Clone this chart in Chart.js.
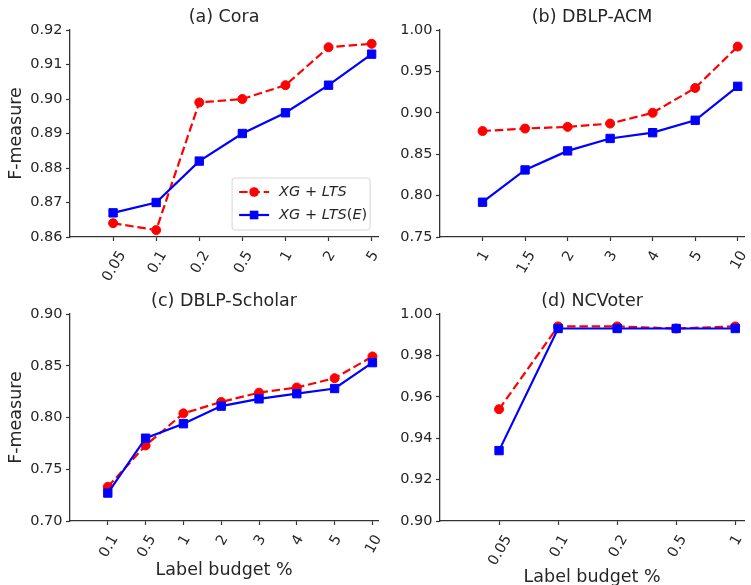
<!DOCTYPE html>
<html>
<head>
<meta charset="utf-8">
<script src="https://cdn.jsdelivr.net/npm/chart.js@4.4.1/dist/chart.umd.min.js"></script>
<style>
  html, body { margin: 0; padding: 0; background: #fff; overflow: hidden; }
  body { width: 751px; height: 585px; position: relative; }
  .panel { position: absolute; }
  canvas { display: block; }
</style>
</head>
<body>
<div class="panel" style="left:0;top:0"><canvas id="cora" width="385" height="290"></canvas></div>
<div class="panel" style="left:380px;top:0"><canvas id="acm" width="371" height="290"></canvas></div>
<div class="panel" style="left:0;top:290px"><canvas id="scholar" width="385" height="295"></canvas></div>
<div class="panel" style="left:380px;top:290px"><canvas id="voter" width="371" height="305"></canvas></div>
<script>
// values
const coraBudget = ['0.05', '0.1', '0.2', '0.5', '1', '2', '5'];
const coraLts    = [0.864, 0.862, 0.899, 0.900, 0.904, 0.915, 0.916];
const coraLtsE   = [0.867, 0.870, 0.882, 0.890, 0.896, 0.904, 0.913];

const acmBudget = ['1', '1.5', '2', '3', '4', '5', '10'];
const acmLts    = [0.878, 0.881, 0.883, 0.887, 0.900, 0.930, 0.980];
const acmLtsE   = [0.792, 0.831, 0.854, 0.869, 0.876, 0.891, 0.932];

const scholarBudget = ['0.1', '0.5', '1', '2', '3', '4', '5', '10'];
const scholarLts    = [0.733, 0.773, 0.804, 0.815, 0.824, 0.829, 0.838, 0.859];
const scholarLtsE   = [0.727, 0.780, 0.794, 0.811, 0.818, 0.823, 0.828, 0.853];

const voterBudget = ['0.05', '0.1', '0.2', '0.5', '1'];
const voterLts    = [0.954, 0.994, 0.994, 0.993, 0.994];
const voterLtsE   = [0.934, 0.993, 0.993, 0.993, 0.993];

const FONT = '"DejaVu Sans", sans-serif';
const TEXT = '#262626';
const AXIS = '#333333';
const RED = '#ff0000';
const BLUE = '#0000ff';
const TICK_SIZE = 14.5;
const LABEL_SIZE = 17.5;

// x tick labels rotated 60 deg, centred under the tick like matplotlib
function rotatedTicks(labels) {
    return {
        id: 'rotatedTicks',
        afterDraw(chart) {
            const sx = chart.scales.x;
            const ctx = chart.ctx;
            const a = Math.PI / 3;
            const capH = TICK_SIZE * 0.73;
            ctx.save();
            ctx.font = TICK_SIZE + 'px ' + FONT;
            ctx.fillStyle = TEXT;
            labels.forEach((lab, i) => {
                const w = ctx.measureText(lab).width;
                const boxH = w * Math.sin(a) + capH * Math.cos(a);
                ctx.save();
                ctx.translate(sx.getPixelForValue(i), sx.top + 12 + boxH / 2);
                ctx.rotate(-a);
                ctx.textAlign = 'center';
                ctx.textBaseline = 'alphabetic';
                ctx.fillText(lab, 0, capH / 2);
                ctx.restore();
            });
            ctx.restore();
        }
    };
}

function drawParts(ctx, parts, x, y) {
    parts.forEach(([txt, it]) => {
        ctx.font = (it ? 'italic ' : '') + '14.5px ' + FONT;
        ctx.fillText(txt, x, y);
        x += ctx.measureText(txt).width;
    });
}

const legendBox = {
    id: 'legendBox',
    afterDraw(chart) {
        const ctx = chart.ctx, ca = chart.chartArea;
        const w = 138, h = 52, r = 3;
        const x0 = ca.right - 8 - w, y0 = ca.bottom - 7 - h;
        ctx.save();
        ctx.beginPath();
        ctx.moveTo(x0 + r, y0);
        ctx.arcTo(x0 + w, y0, x0 + w, y0 + h, r);
        ctx.arcTo(x0 + w, y0 + h, x0, y0 + h, r);
        ctx.arcTo(x0, y0 + h, x0, y0, r);
        ctx.arcTo(x0, y0, x0 + w, y0, r);
        ctx.closePath();
        ctx.fillStyle = 'rgba(255,255,255,0.85)';
        ctx.fill();
        ctx.strokeStyle = '#d6d6d6';
        ctx.lineWidth = 1;
        ctx.stroke();

        const rows = [
            {y: y0 + 14, color: RED, dash: [8.5, 3.8], marker: 'circle',
             parts: [['XG', true], [' + ', false], ['LTS', true]]},
            {y: y0 + 37, color: BLUE, dash: [], marker: 'rect',
             parts: [['XG', true], [' + ', false], ['LTS', true], ['(', false], ['E', true], [')', false]]}
        ];
        rows.forEach(row => {
            ctx.strokeStyle = row.color;
            ctx.fillStyle = row.color;
            ctx.lineWidth = 2.2;
            ctx.setLineDash(row.dash);
            ctx.beginPath();
            ctx.moveTo(x0 + 7, row.y);
            ctx.lineTo(x0 + 37, row.y);
            ctx.stroke();
            ctx.setLineDash([]);
            if (row.marker === 'circle') {
                ctx.beginPath();
                ctx.arc(x0 + 22, row.y, 4.8, 0, Math.PI * 2);
                ctx.fill();
            } else {
                ctx.fillRect(x0 + 22 - 4.3, row.y - 4.3, 8.6, 8.6);
            }
            ctx.fillStyle = TEXT;
            ctx.textBaseline = 'middle';
            drawParts(ctx, row.parts, x0 + 47, row.y);
        });
        ctx.restore();
    }
};

function makePanel(id, cfg) {
    const n = cfg.labels.length;
    const pts = vals => vals.map((v, i) => ({x: i, y: v}));
    const plugins = [rotatedTicks(cfg.labels)];
    if (cfg.legend) plugins.push(legendBox);

    return new Chart(document.getElementById(id), {
        type: 'line',
        data: {
            datasets: [{
                label: 'XG + LTS',
                data: pts(cfg.lts),
                borderColor: RED,
                backgroundColor: RED,
                borderDash: [8.5, 3.8],
                borderWidth: 2.2,
                pointStyle: 'circle',
                pointRadius: 4.5,
                pointBorderWidth: 1,
                pointBorderColor: RED,
                pointBackgroundColor: RED,
                tension: 0,
                clip: false,
                order: 1
            }, {
                label: 'XG + LTS(E)',
                data: pts(cfg.ltsE),
                borderColor: BLUE,
                backgroundColor: BLUE,
                borderWidth: 2.2,
                pointStyle: 'rect',
                pointRadius: 5.9,
                pointBorderWidth: 1,
                pointBorderColor: BLUE,
                pointBackgroundColor: BLUE,
                tension: 0,
                clip: false,
                order: 0
            }]
        },
        options: {
            responsive: false,
            animation: false,
            events: [],
            layout: { padding: { left: 0, right: cfg.padRight, top: 0, bottom: 0 } },
            plugins: {
                legend: { display: false },
                tooltip: { enabled: false },
                title: {
                    display: true,
                    text: cfg.title,
                    fullSize: false,
                    color: TEXT,
                    font: { family: FONT, size: LABEL_SIZE, weight: 'normal' },
                    padding: cfg.titlePad
                }
            },
            scales: {
                x: {
                    type: 'linear',
                    min: -1,
                    max: n - 1 + 0.15,
                    afterBuildTicks: s => { s.ticks = cfg.labels.map((_, i) => ({ value: i })); },
                    afterFit: s => { s.height = cfg.xHeight; },
                    ticks: { display: false },
                    grid: { drawOnChartArea: false, drawTicks: true, tickLength: 4, tickColor: AXIS, tickWidth: 1.2 },
                    border: { display: true, color: AXIS, width: 1.3 },
                    title: {
                        display: !!cfg.xTitle,
                        text: cfg.xTitle || '',
                        color: TEXT,
                        font: { family: FONT, size: LABEL_SIZE },
                        padding: { top: 0, bottom: cfg.xTitlePad || 0 }
                    }
                },
                y: {
                    min: cfg.yMin,
                    max: cfg.yMax,
                    afterFit: s => { s.width = cfg.yWidth; },
                    ticks: {
                        stepSize: cfg.yStep,
                        color: TEXT,
                        padding: 3.5,
                        font: { family: FONT, size: TICK_SIZE },
                        callback: v => v.toFixed(2)
                    },
                    grid: { drawOnChartArea: false, drawTicks: true, tickLength: 4, tickColor: AXIS, tickWidth: 1.2 },
                    border: { display: true, color: AXIS, width: 1.3 },
                    title: {
                        display: !!cfg.yTitle,
                        text: cfg.yTitle || '',
                        color: TEXT,
                        font: { family: FONT, size: LABEL_SIZE },
                        padding: { top: 5.5, bottom: 0 }
                    }
                }
            }
        },
        plugins: plugins
    });
}

makePanel('cora', {
    title: '(a) Cora', labels: coraBudget, lts: coraLts, ltsE: coraLtsE,
    yMin: 0.86, yMax: 0.92, yStep: 0.01, yWidth: 70, yTitle: 'F-measure',
    xHeight: 53, padRight: 4, titlePad: { top: 7, bottom: 2 }, legend: true
});
makePanel('acm', {
    title: '(b) DBLP-ACM', labels: acmBudget, lts: acmLts, ltsE: acmLtsE,
    yMin: 0.75, yMax: 1.0, yStep: 0.05, yWidth: 60,
    xHeight: 53, padRight: 1, titlePad: { top: 7, bottom: 2 }
});
makePanel('scholar', {
    title: '(c) DBLP-Scholar', labels: scholarBudget, lts: scholarLts, ltsE: scholarLtsE,
    yMin: 0.70, yMax: 0.90, yStep: 0.05, yWidth: 70, yTitle: 'F-measure',
    xHeight: 64, xTitle: 'Label budget %', xTitlePad: 4.5,
    padRight: 4, titlePad: { top: 0.5, bottom: 2.5 }
});
makePanel('voter', {
    title: '(d) NCVoter', labels: voterBudget, lts: voterLts, ltsE: voterLtsE,
    yMin: 0.90, yMax: 1.0, yStep: 0.02, yWidth: 60,
    xHeight: 74, xTitle: 'Label budget %', xTitlePad: 7.5,
    padRight: 0, titlePad: { top: 0.5, bottom: 2.5 }
});
</script>
</body>
</html>
